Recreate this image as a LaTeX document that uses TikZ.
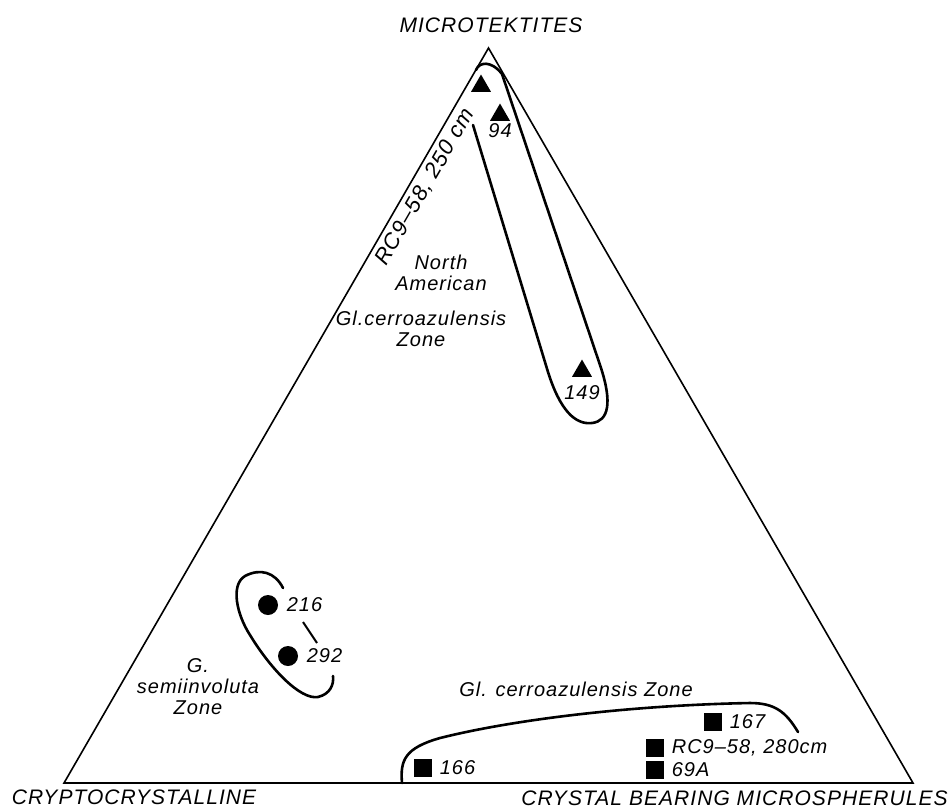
\documentclass[tikz,border=0pt]{standalone}
\usepackage{fontspec}
\setmainfont[LetterSpace=5]{Liberation Sans}
\usetikzlibrary{shapes.geometric}

\tikzset{
  lbl/.style={font=\fontsize{10}{10.5}\selectfont\itshape, inner sep=0pt, align=center},
  cornerlbl/.style={font=\fontsize{10.5}{12}\selectfont\itshape, inner sep=0pt},
  tri/.style={regular polygon, regular polygon sides=3, fill, inner sep=0pt, minimum size=11.5pt},
  dot/.style={circle, fill, inner sep=0pt, minimum size=10pt},
  sq/.style={rectangle, fill, inner sep=0pt, minimum size=9pt},
  zone/.style={line width=1.3pt, line cap=round},
}

\begin{document}
\begin{tikzpicture}[x=0.5pt, y=-0.5pt]
\useasboundingbox (0,0) rectangle (951,811);

\coordinate (top) at (488.5,48);
\coordinate (left) at (64,783);
\coordinate (right) at (913,783);

\draw[line width=0.8pt] (left) -- (top) -- (right) -- cycle;

\node[cornerlbl] (mt) at (491,25) {MICROTEKTITES};
\node[cornerlbl] (cc) at (134,797) {CRYPTOCRYSTALLINE};
\node[cornerlbl, anchor=east] (cb) at (948,798) {CRYSTAL BEARING MICROSPHERULES};

\node[lbl, font=\fontsize{11}{12}\selectfont\itshape, rotate=60] (core) at (425,187) {RC9--58, 250 cm};

% microtektite samples
\node[tri] (t250) at (481,86) {};
\node[tri, label={[lbl, label distance=1pt]below:94}] (t94) at (500,115) {};
\node[tri, label={[lbl, label distance=4pt]below:149}] (t149) at (582,371) {};

\node[lbl] (na) at (441,273) {North\\American};
\node[lbl] (gc1) at (421,329) {Gl.cerroazulensis\\Zone};

\draw[zone] (476,70) .. controls (479,62) and (491,60) .. (502,74)
  -- (601,368) .. controls (612,402) and (609,421) .. (592,423)
  .. controls (575,425) and (560,410) .. (548,372) -- (473,125);

% cryptocrystalline samples
\node[dot, label={[lbl, label distance=4pt]right:216}] (d216) at (268,605) {};
\node[dot, label={[lbl, label distance=4pt]right:292}] (d292) at (288,656) {};

\coordinate (tieA) at (303,622);
\coordinate (tieB) at (317,643);
\draw[line width=1pt] (tieA) -- (tieB);

\node[lbl] (gs) at (198,687) {G.\\semiinvoluta\\Zone};

\draw[zone] (283,588) .. controls (275,572) and (260,568) .. (245,576)
  .. controls (230,585) and (237,615) .. (250,635)
  .. controls (270,668) and (300,700) .. (318,697)
  .. controls (330,694) and (334,685) .. (333,676);

% crystal bearing samples
\node[sq, label={[lbl, label distance=3.5pt]right:166}] (s166) at (423,768) {};
\node[sq, label={[lbl, label distance=3.5pt]right:167}] (s167) at (713,722) {};
\node[sq, label={[lbl, label distance=3.5pt]right:{RC9--58, 280cm}}] (s280) at (655,748) {};
\node[sq, label={[lbl, label distance=3.5pt]right:69A}] (s69) at (655,770) {};

\node[lbl] (gc2) at (576,689) {Gl. cerroazulensis Zone};

\draw[zone] (402,783) .. controls (400,760) and (405,748) .. (440,738)
  .. controls (520,718) and (640,705) .. (750,703)
  .. controls (775,703) and (786,712) .. (798,732);
\end{tikzpicture}
\end{document}
